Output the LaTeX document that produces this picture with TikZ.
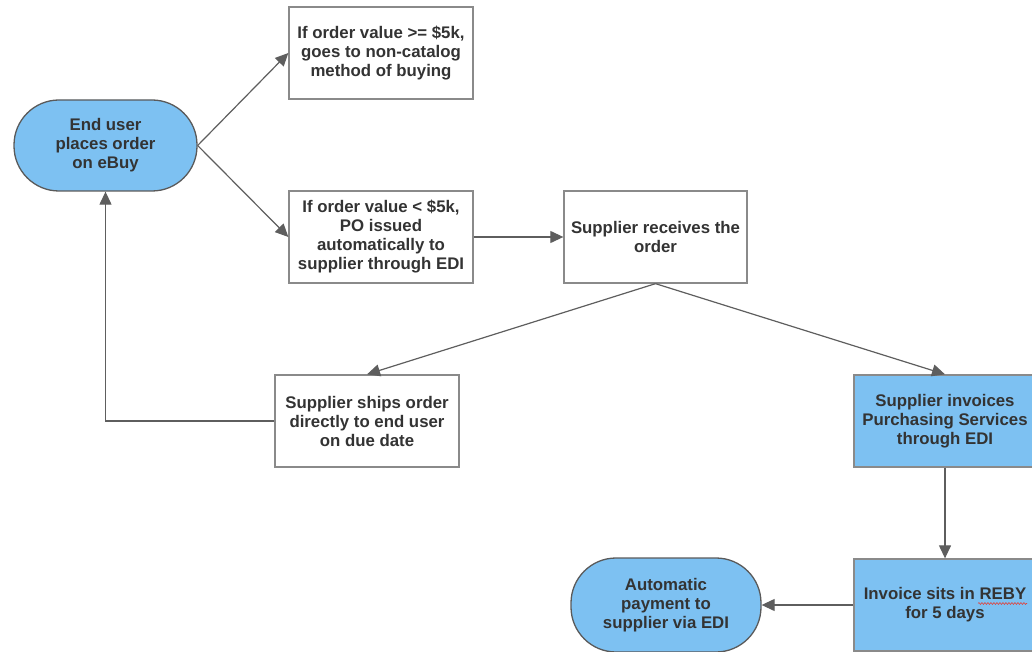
\documentclass[tikz,border=0pt]{standalone}
\usepackage{fontspec}
\setmainfont{Liberation Sans}
\usetikzlibrary{arrows.meta,calc,decorations.pathmorphing}
\definecolor{fillblue}{HTML}{7DC1F2}
\definecolor{txt}{HTML}{333333}
\definecolor{edge}{HTML}{8A8A8A}
\definecolor{link}{HTML}{5E5E5E}
\definecolor{darkedge}{HTML}{5A5A5A}
\definecolor{spell}{HTML}{E0403A}

\begin{document}
\begin{tikzpicture}[x=1pt,y=-1pt,
  base/.style={align=center, text=txt,
    font=\fontsize{16.8}{19}\selectfont\bfseries,
    inner sep=0pt, minimum width=184pt, minimum height=92pt},
  plainbox/.style={base, draw=edge, line width=1.3pt, fill=white},
  bluebox/.style={base, draw=edge, line width=1.3pt, fill=fillblue},
  terminal/.style={base, draw=darkedge, line width=1.3pt, fill=fillblue,
    rounded corners=45pt},
  flow/.style={draw=link, line width=1.2pt,
    -{Triangle[length=13pt,width=12pt]}}
]
\useasboundingbox (0,0) rectangle (1032,652);

% process steps
\node[terminal, minimum width=183pt, minimum height=91pt] (user) at (105.5,145.5)
  {End user\\places order\\on eBuy};
\node[plainbox] (big) at (381,53)
  {If order value >= \$5k,\\goes to non-catalog\\method of buying};
\node[plainbox] (small) at (381,237)
  {If order value < \$5k,\\PO issued\\automatically to\\supplier through EDI};
\node[plainbox, minimum width=183pt] (recv) at (655.5,237)
  {Supplier receives the\\order};
\node[plainbox] (ship) at (367,421)
  {Supplier ships order\\directly to end user\\on due date};
\node[bluebox, minimum width=182pt] (inv) at (945,421)
  {Supplier invoices\\Purchasing Services\\through EDI};
\node[bluebox, minimum width=182pt] (reby) at (945,605)
  {Invoice sits in REBY\\for 5 days};
\node[terminal, minimum width=190pt, minimum height=94pt] (pay) at (666,605)
  {Automatic\\payment to\\supplier via EDI};

% spell-check squiggle under REBY
\draw[spell, line width=0.6pt,
  decorate, decoration={snake, amplitude=0.9pt, segment length=3pt}]
  ($(reby.center)+(33,-1.5)$) -- ($(reby.center)+(82,-1.5)$);

% connectors
\draw[flow] (user.east) -- (big.west);
\draw[flow] (user.east) -- (small.west);
\draw[flow] (small.east) -- (recv.west);
\draw[flow] (recv.south) -- (ship.north);
\draw[flow] (recv.south) -- (inv.north);
\draw[flow] (ship.west) -| (user.south);
\draw[flow] (inv.south) -- (reby.north);
\draw[flow] (reby.west) -- (pay.east);
\end{tikzpicture}
\end{document}
